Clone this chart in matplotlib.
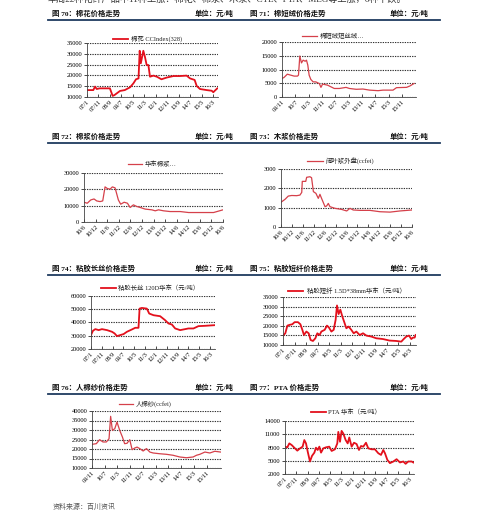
import numpy as np
import matplotlib
matplotlib.use('Agg')
import matplotlib.pyplot as plt
from matplotlib.lines import Line2D

plt.rcParams['font.family'] = ['Liberation Serif', 'Noto Sans CJK SC']
MIX = ['Liberation Serif', 'Noto Sans CJK SC']

W, H = 500, 518

# ---- data (month index from the first tick label) ----
# 70 cotton CCIndex(328), months from 07/1
cot_x = [0, 5.5, 7, 8.5, 11, 20, 22.4, 24, 28.8, 33, 37.6, 40.5, 42.8, 45, 46, 47, 49.2, 50.6,
         52.1, 53.6, 55, 58, 61, 65, 69.6, 75.4, 81, 87, 90, 94, 95.8, 98.7, 104.5, 108.9,
         110.3, 111.8, 113.8]
cot_y = [13200, 13200, 14800, 13700, 14000, 14000, 10500, 10900, 12800, 13200, 14500, 16300,
         18200, 18600, 31400, 25600, 31400, 28600, 24800, 24800, 19400, 19900, 19400, 18200,
         19000, 19700, 19700, 19900, 18600, 17900, 15100, 13700, 13200, 12900, 12200, 13000, 14000]
cot_labels = ['07/1', '07/11', '08/9', '09/7', '10/5', '11/3', '12/1', '12/11', '13/9', '14/7', '15/5', '16/3']

# 71 cotton linter, months from 09/11
lint_x = [0, 1.2, 3.2, 5.2, 7.3, 9.3, 9.9, 10.7, 11.7, 12.7, 13.9, 14.7, 15.5, 16.3, 17.3, 18.7,
          20.3, 22.4, 23.4, 24.4, 27.4, 29.4, 31.4, 34.5, 38.5, 40.5, 44.6, 48.6, 52.6, 57.7,
          60.7, 66.7, 68.8, 74.8, 76.8, 79.3]
lint_y = [6750, 7100, 8300, 7950, 7600, 7600, 7950, 14900, 12400, 13400, 13000, 13400, 11600,
          7950, 6400, 5500, 5500, 4900, 3500, 4700, 4300, 3700, 3100, 3100, 3500, 3100, 2800,
          2900, 2500, 2300, 2500, 2500, 3400, 3500, 4000, 4900]
lint_labels = ['09/11', '10/7', '11/3', '11/11', '12/7', '13/3', '13/11', '14/7', '15/3', '15/11']

# 72 cotton pulp, months from 10/6
pulp_x = [0, 1.7, 3.5, 5.2, 6.6, 8.3, 9.7, 10.9, 12.1, 13.5, 14.7, 16.1, 17.8, 19, 20.8, 22.5,
          23.9, 25.6, 27.3, 29.1, 31.7, 35.1, 36.9, 38.6, 41.2, 44.6, 49.8, 54.2, 60.2, 67.1, 72]
pulp_y = [12100, 11500, 13500, 14100, 12900, 12500, 12900, 21500, 20500, 20100, 21500, 20900,
          13500, 10900, 12100, 11500, 8900, 10500, 9500, 8900, 7900, 7450, 6850, 7450, 6850,
          6400, 6400, 5800, 5800, 5800, 7450]
half_labels = ['10/6', '10/12', '11/6', '11/12', '12/6', '12/12', '13/6', '13/12', '14/6',
               '14/12', '15/6', '15/12', '16/6']

# 73 hardwood pulp (ccfei), months from 10/6
wood_x = [0, 2.2, 4, 5.9, 8.6, 10.4, 11.4, 11.7, 13.6, 14.1, 15.9, 16.8, 17.8, 19.2, 20.5, 21.4,
          22.3, 24.2, 25.1, 26, 26.9, 29.7, 33.3, 36.1, 37.9, 39.7, 43.4, 48.9, 54.4, 59.9, 65.4, 72]
wood_y = [1280, 1430, 1600, 1630, 1620, 1650, 1790, 2360, 2360, 2570, 2600, 2550, 1830, 1740,
          1480, 1690, 1480, 1050, 1090, 1220, 1050, 965, 910, 830, 965, 880, 860, 860, 790,
          770, 830, 880]

# 74 viscose filament 120D, months from 07/1
fil_x = [0, 1.8, 4, 7.1, 10.1, 14.8, 19.4, 21.8, 24, 27, 30.1, 33.2, 37.8, 40.9, 43.9, 44.9, 47,
         51.6, 53.8, 57.8, 63.9, 68.5, 71.6, 74.7, 77.8, 82.4, 87, 90, 94.7, 99.3, 105.4, 114.6]
fil_y = [30500, 33750, 35000, 34250, 35000, 34250, 33000, 31750, 29750, 30500, 31250, 33000,
         34750, 36000, 36000, 50500, 51000, 50500, 46750, 45500, 44750, 41750, 39250, 38500,
         35500, 34250, 35000, 35500, 35500, 37250, 37500, 38000]

# 75 viscose staple 1.5D*38mm, months from 07/1
vsf_x = [0, 2, 3.8, 5.8, 8.1, 10.1, 13, 15.1, 16.8, 18.2, 20.3, 22.3, 24, 26, 28.1, 29.8, 31.8,
         33.3, 36.2, 38.2, 39.9, 42, 44, 45.7, 46.9, 48.3, 49.8, 51.5, 53.5, 55, 57, 59.3, 61.4,
         63.7, 66.6, 69.5, 72.4, 76.7, 81, 86.8, 92.6, 98.4, 102.7, 104.8, 107.1, 109.4, 111.4,
         112.9, 114.3, 115.2]
vsf_y = [14900, 16100, 20100, 20500, 20800, 21900, 21900, 20800, 17900, 15200, 17000, 16100,
         12600, 12100, 13500, 16100, 15200, 17000, 17900, 20100, 19100, 17000, 17900, 23100,
         30600, 26100, 28400, 24900, 21400, 18700, 19600, 17900, 16100, 17000, 15200, 16100,
         14900, 14400, 13500, 13100, 12300, 12100, 11750, 13100, 14400, 14900, 13100, 13850,
         13850, 15200]

# 76 rayon yarn (ccfei), months from 09/11
yarn_x = [0, 2.7, 4.8, 6.9, 9, 10.7, 11.7, 12.8, 14.3, 15.7, 17.4, 19.1, 20.5, 22, 23.7, 25.2,
          26.8, 28.3, 30, 32.1, 34.2, 36.3, 38.4, 42.6, 46.8, 50.9, 55.1, 59.3, 63.5, 65.6, 67.7,
          70.9, 74, 77.1, 80.7]
yarn_y = [22450, 22800, 24900, 23700, 23700, 25400, 37200, 29800, 30700, 34200, 29800, 26300,
          22800, 23000, 24900, 19650, 20500, 21000, 20200, 18950, 20200, 18400, 17900, 17500,
          17200, 16700, 15800, 15400, 15800, 16700, 17200, 18400, 17900, 18800, 18400]

# 77 PTA East China, months from 07/1
pta_x = [0, 2.1, 3.8, 5.9, 8.8, 10.9, 13.3, 15.6, 17.1, 18.6, 20.1, 22.1, 23.9, 26, 27.4, 28.9,
         30.4, 31.9, 33.9, 36.3, 39.2, 41.3, 44.2, 46.3, 47.2, 48.7, 50.1, 51.6, 53.7, 55.5,
         56.9, 59, 61.1, 63.4, 65.5, 67.3, 69.3, 71.7, 73.7, 76.7, 79.6, 82.6, 85, 87, 88.5,
         90.6, 92.9, 95.9, 98.8, 101.8, 104.7, 106.8, 109.1, 112.1, 113.6]
pta_y = [8190, 8040, 8930, 8560, 7810, 7290, 7810, 8190, 9680, 8930, 7070, 4830, 6100, 6840,
         7960, 7440, 8190, 6840, 7810, 8040, 8190, 7220, 7590, 8930, 11540, 9300, 11760, 11170,
         9680, 8930, 10270, 8190, 9080, 8780, 7440, 8340, 8190, 9080, 7810, 7590, 7590, 6700,
         6320, 7440, 6700, 5200, 4460, 4830, 5350, 4610, 4830, 4310, 4830, 4830, 4610]

RED = '#e3101c'
RED2 = '#d5404a'

fig = plt.figure(figsize=(5.0, 5.18), dpi=100)


def add_ax(l, r, t, b):
    return fig.add_axes([l / W, 1 - b / H, (r - l) / W, (b - t) / H])


def draw(box, x, y, ylim, ystep, xmax, tstep, labels, color, lw, label, leg):
    ax = add_ax(*box)
    ax.plot(x, y, color=color, lw=lw, solid_joinstyle='round')
    ax.set_xlim(0, xmax)
    ax.set_ylim(*ylim)
    ax.set_yticks(np.arange(ylim[0], ylim[1] + 1, ystep))
    ax.set_xticks(np.arange(len(labels)) * tstep)
    ax.set_xticklabels(labels, rotation=45, ha='right', rotation_mode='anchor')
    ax.tick_params(axis='both', labelsize=4.6, length=2, width=0.5, pad=1.5)
    ax.tick_params(axis='x', direction='in')
    for s in ['top', 'right']:
        ax.spines[s].set_visible(False)
    for s in ['left', 'bottom']:
        ax.spines[s].set_linewidth(0.6)
        ax.spines[s].set_color('#444444')
    ax.yaxis.grid(True, linestyle=(0, (1.2, 1)), color='#333333', lw=0.8)
    ax.set_axisbelow(True)
    # legend key above the plot: line from x0 to x1, text from xt, at height ly (pixels)
    x0, x1, xt, ly = leg
    fig.add_artist(Line2D([x0 / W, x1 / W], [1 - ly / H, 1 - ly / H], color=color, lw=lw))
    fig.text(xt / W, 1 - ly / H, label, fontsize=4.6, va='center', ha='left',
             family=MIX, color='#222222')
    return ax


draw((87, 218, 43, 97), cot_x, cot_y, (10000, 35000), 5000, 114.4, 10, cot_labels,
     RED, 1.3, '棉花 CCIndex(328)', (113, 128, 131, 39))
draw((282, 416, 42, 97), lint_x, lint_y, (0, 20000), 5000, 80.5, 8, lint_labels,
     RED2, 0.9, '棉短绒短丝绒…', (302, 317, 320, 36))
draw((84, 223, 173, 222), pulp_x, pulp_y, (0, 30000), 10000, 72, 6, half_labels,
     RED2, 0.9, '华东棉浆…', (128, 142, 145, 164))
draw((281, 412, 169, 227), wood_x, wood_y, (0, 3000), 1000, 72, 6, half_labels,
     RED2, 0.9, '阔叶浆外盘(ccfei)', (307, 323, 325, 161))
draw((91, 215, 296, 349), fil_x, fil_y, (20000, 60000), 10000, 114.6, 10, cot_labels,
     RED, 1.3, '粘胶长丝 120D华东（元/吨）', (101, 116, 118, 288))
draw((283, 416, 297, 345), vsf_x, vsf_y, (10000, 35000), 5000, 115.5, 10, cot_labels,
     RED, 1.3, '粘胶短纤 1.5D*38mm华东（元/吨）', (288, 303, 307, 290.5))
draw((92, 221, 411, 468), yarn_x, yarn_y, (10000, 40000), 5000, 81, 8, lint_labels,
     RED2, 0.9, '人棉纱(ccfei)', (119, 133, 136, 404))
draw((285, 414, 421, 474), pta_x, pta_y, (2000, 14000), 3000, 114.2, 10, cot_labels,
     RED, 1.3, 'PTA 华东（元/吨）', (311, 326, 328, 412))

# ---- page text ----
# the first line of the page is cut by the top edge, as in the source scan
fig.text(48 / W, 1 - (-1) / H, '本周22种化纤产品中11种上涨：棉花、棉浆、木浆、CTL、PTA、MEG等上涨，6种下跌。',
         fontsize=6.6, color='#333333', va='center', ha='left', family=MIX)

headers = [
    (13, '图 70：棉花价格走势', '图 71：棉短绒价格走势', 19.5),
    (136, '图 72：棉浆价格走势', '图 73：木浆价格走势', 143),
    (268, '图 74：粘胶长丝价格走势', '图 75：粘胶短纤价格走势', 275),
    (387, '图 76：人棉纱价格走势', '图 77：PTA 价格走势', 394),
]
for yy, left_t, right_t, line_y in headers:
    fig.text(52 / W, 1 - yy / H, left_t, fontsize=5.3, weight='bold', va='center',
             family=MIX, color='#111111')
    fig.text(195 / W, 1 - yy / H, '单位：元/吨', fontsize=5.3, weight='bold', va='center',
             family=MIX, color='#111111')
    fig.text(250 / W, 1 - yy / H, right_t, fontsize=5.3, weight='bold', va='center',
             family=MIX, color='#111111')
    fig.text(390 / W, 1 - yy / H, '单位：元/吨', fontsize=5.3, weight='bold', va='center',
             family=MIX, color='#111111')
    fig.add_artist(Line2D([48 / W, 440 / W], [1 - line_y / H, 1 - line_y / H],
                          color='#1f3a5f', lw=1.3))

fig.text(53 / W, 1 - 506 / H, '资料来源：百川资讯', fontsize=5, style='italic',
         color='#555555', va='center', family=MIX)

fig.savefig('out.png', dpi=100)
